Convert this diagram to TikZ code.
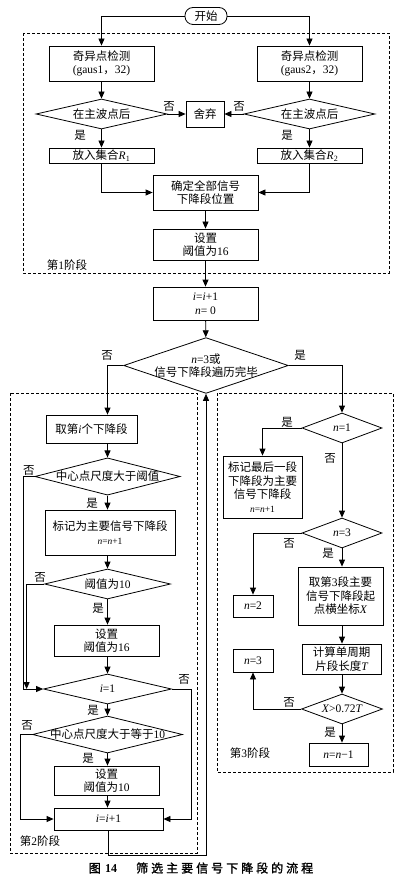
\documentclass[tikz,border=0pt]{standalone}
\usepackage{fontspec}
\setmainfont{Liberation Serif}
\newfontfamily\cjk{Noto Sans CJK SC}
\newfontfamily\cjkbold[FakeBold=1.5]{Noto Sans CJK SC}
\usepackage{tikz}
\usetikzlibrary{arrows.meta}
\usetikzlibrary{shapes.geometric, calc}

\newcommand{\tm}[1]{{\rmfamily #1}}
\newcommand{\vr}[1]{{\rmfamily\itshape #1}}
\newcommand{\nsm}[1]{{\fontsize{9.5}{11}\selectfont #1}}

\tikzset{
	blk/.style={draw, align=center, inner sep=1pt},
	dia/.style={draw, diamond, aspect=#1, inner sep=0pt, align=center},
	arr/.style={-{Triangle[length=7pt,width=6pt]}},
	stage/.style={draw, dash pattern=on 3pt off 2pt}
}

\begin{document}
\begin{tikzpicture}[x=1pt, y=-1pt, line width=0.8pt, font=\fontsize{11.5}{13.5}\selectfont\cjk]

	\useasboundingbox (0,0) rectangle (401,882);

	\draw[stage] (23,33) rectangle (389,273);
	\draw[stage] (10,393) rectangle (197,853);
	\draw[stage] (217,393) rectangle (393,772);

	\node[blk, rounded corners=8pt, minimum width=42pt, minimum height=17pt] (start) at (206,16) {开始};
	\node[blk, minimum width=105pt, minimum height=35pt] (det1) at (101.5,63.5) {奇异点检测\\\tm{(gaus1}，\tm{32)}};
	\node[blk, minimum width=105pt, minimum height=35pt] (det2) at (309.5,63.5) {奇异点检测\\\tm{(gaus2}，\tm{32)}};
	\node[dia=4.37, minimum width=131pt, minimum height=30pt] (pos1) at (101.5,114) {在主波点后};
	\node[dia=4.37, minimum width=131pt, minimum height=30pt] (pos2) at (309.5,114) {在主波点后};
	\node[blk, minimum width=38pt, minimum height=26pt] (drop) at (205,114) {舍弃};
	\node[blk, minimum width=105pt, minimum height=15pt] (set1) at (101.5,155.5) {放入集合\vr{R}{\rmfamily\textsubscript{1}}};
	\node[blk, minimum width=105pt, minimum height=15pt] (set2) at (309.5,155.5) {放入集合\vr{R}{\rmfamily\textsubscript{2}}};
	\node[blk, minimum width=105pt, minimum height=35pt] (locate) at (205.5,192.5) {确定全部信号\\下降段位置};
	\node[blk, minimum width=105pt, minimum height=31pt] (thr16) at (205.5,244.5) {设置\\阈值为\tm{16}};
	\node (s1) at (67,265) {第\tm{1}阶段};

	\node[blk, minimum width=105pt, minimum height=33pt] (inc) at (205.5,303.5) {\vr{i}\tm{=}\vr{i}\tm{+1}\\\vr{n}\tm{= 0}};
	\node[dia=2.95, minimum width=162pt, minimum height=55pt, inner xsep=-5pt] (done) at (206,365.5) {\vr{n}\tm{=3}或\\信号下降段遍历完毕};

	\node[blk, minimum width=91pt, minimum height=28pt] (take) at (91.5,429) {取第\vr{i}个下降段};
	\node[dia=3.9, minimum width=144pt, minimum height=37pt] (big) at (107.5,476.5) {中心点尺度大于阈值};
	\node[blk, minimum width=130pt, minimum height=45pt] (mark) at (110,532.5) {标记为主要信号下降段\\\nsm{\vr{n}\tm{=}\vr{n}\tm{+1}}};
	\node[dia=4.2, minimum width=126pt, minimum height=30pt] (is10) at (107.5,584) {阈值为\tm{10}};
	\node[blk, minimum width=105pt, minimum height=31pt] (set16) at (106.5,640.5) {设置\\阈值为\tm{16}};
	\node[dia=4.27, minimum width=128pt, minimum height=30pt] (ione) at (107.5,689) {\vr{i}\tm{=1}};
	\node[dia=4.05, minimum width=150pt, minimum height=37pt, inner xsep=-6pt] (big10) at (107.5,734.5) {中心点尺度大于等于\tm{10}};
	\node[blk, minimum width=105pt, minimum height=29pt] (set10) at (106.5,780.5) {设置\\阈值为\tm{10}};
	\node[blk, minimum width=109pt, minimum height=22pt] (inc2) at (108.5,819) {\vr{i}\tm{=}\vr{i}\tm{+1}};
	\node (s2) at (40,841) {第\tm{2}阶段};

	\node[dia=2.67, minimum width=80pt, minimum height=30pt] (none1) at (342,428) {\vr{n}\tm{=1}};
	\node[blk, minimum width=79pt, minimum height=62pt] (last) at (262.5,487) {标记最后一段\\下降段为主要\\信号下降段\\\nsm{\vr{n}\tm{=}\vr{n}\tm{+1}}};
	\node[dia=2.67, minimum width=80pt, minimum height=30pt] (nthree) at (342,533) {\vr{n}\tm{=3}};
	\node[blk, minimum width=40pt, minimum height=22pt] (ntwo) at (253,606) {\vr{n}\tm{=2}};
	\node[blk, minimum width=85pt, minimum height=58pt] (takeX) at (340.5,596) {取第\tm{3}段主要\\信号下降段起\\点横坐标\vr{X}};
	\node[blk, minimum width=79pt, minimum height=30pt] (calcT) at (341.5,659) {计算单周期\\片段长度\vr{T}};
	\node[blk, minimum width=40pt, minimum height=23pt] (nthr) at (253,660.5) {\vr{n}\tm{=3}};
	\node[dia=2.7, minimum width=81pt, minimum height=30pt] (cmp) at (342,709) {\vr{X}\tm{>0.72}\vr{T}};
	\node[blk, minimum width=59pt, minimum height=23pt] (nmin) at (338.5,754.5) {\vr{n}\tm{=}\vr{n}\tm{−1}};
	\node (s3) at (250,753) {第\tm{3}阶段};

	\node (no1) at (169,106) {否};
	\node (no2) at (239,106) {否};
	\node (yes1) at (80,135) {是};
	\node (yes2) at (287,135) {是};
	\node (no3) at (107,355) {否};
	\node (yes3) at (300,355) {是};
	\node (no4) at (29,470) {否};
	\node (yes4) at (92,503) {是};
	\node (no5) at (40,577) {否};
	\node (yes5) at (98,608) {是};
	\node (no6) at (184,679) {否};
	\node (yes6) at (93,710) {是};
	\node (no7) at (27,725) {否};
	\node (yes7) at (88,758) {是};
	\node (yes8) at (287,422) {是};
	\node (no8) at (330,458) {否};
	\node (no9) at (289,543) {否};
	\node (yes9) at (328,553) {是};
	\node (no10) at (289,702) {否};
	\node (yes10) at (330,732) {是};

	\draw[arr] (start) -| (det1);
	\draw[arr] (start) -| (det2);
	\draw[arr] (det1) -- (pos1);
	\draw[arr] (det2) -- (pos2);
	\draw[arr] (pos1.east) -- (drop.west);
	\draw[arr] (pos2.west) -- (drop.east);
	\draw[arr] (pos1.south) -- (set1.north);
	\draw[arr] (pos2.south) -- (set2.north);
	\draw[arr] (set1.south) |- (locate.west);
	\draw[arr] (set2.south) |- (locate.east);
	\draw[arr] (locate) -- (thr16);
	\draw[arr] (thr16) -- (inc);
	\draw[arr] (inc) -- (done);

	\draw[arr] (done.west) -| (take.north -| big.north);
	\draw[arr] (take.south -| big.north) -- (big.north);
	\draw[arr] (big.west) -- ++(-11.5,0) |- (ione.west);
	\draw[arr] (big.south) -- (big.south |- mark.north);
	\draw[arr] (mark.south -| is10.north) -- (is10.north);
	\draw[arr] (is10.west) -| ([xshift=-16.5pt]ione.west);
	\draw[arr] (is10.south) -- (is10.south |- set16.north);
	\draw[arr] (set16.south -| ione.north) -- (ione.north);
	\draw[arr] (ione.east) -- ++(19.5,0) |- (inc2.east);
	\draw[arr] (ione.south) -- (big10.north);
	\draw[arr] (big10.west) -- ++(-11.5,0) |- (inc2.west);
	\draw[arr] (big10.south) -- (big10.south |- set10.north);
	\draw[arr] (set10.south -| big10.south) -- (big10.south |- inc2.north);
	\draw[arr] (inc2.south) -- ++(0,25) -| (done.south);

	\draw[arr] (done.east) -| (none1.north);
	\draw[arr] (none1.west) -| (last.north);
	\draw[arr] (none1) -- (nthree);
	\draw[arr] (nthree.west) -| (ntwo.north);
	\draw[arr] (nthree.south) -- (nthree.south |- takeX.north);
	\draw[arr] (cmp.north |- takeX.south) -- (cmp.north |- calcT.north);
	\draw[arr] (cmp.north |- calcT.south) -- (cmp.north);
	\draw[arr] (cmp.west) -| (nthr.south);
	\draw[arr] (cmp.south) -- (cmp.south |- nmin.north);

	\node[font=\fontsize{12}{14}\selectfont\cjkbold] (cap) at (201,868) {图\hspace{0.35em}\tm{\bfseries 14}\hspace{1.6em}\addfontfeature{LetterSpace=25}筛选主要信号下降段的流程};
\end{tikzpicture}
\end{document}
